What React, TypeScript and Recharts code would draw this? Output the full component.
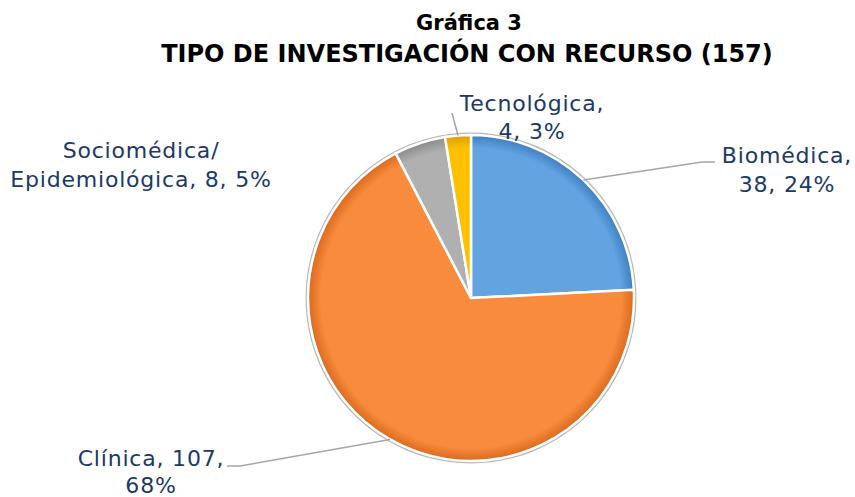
import React from "react";
import { PieChart, Pie, Cell } from "recharts";

const categories = ["Biomédica", "Clínica", "Sociomédica/Epidemiológica", "Tecnológica"];
const values = [38, 107, 8, 4];
const colors = ["#62A3E0", "#F88B3C", "#B0B0B0", "#FFC000"];
const darkColors = ["#3F7FBF", "#D9691E", "#8A8A8A", "#D9A000"];
const titleLines = ["Gráfica 3", "TIPO DE INVESTIGACIÓN CON RECURSO (157)"];

const data = categories.map((name, i) => ({ name, value: values[i] }));
const total = values.reduce((a, b) => a + b, 0);

const CX = 471;
const CY = 298;
const R = 163;
const RADIAN = Math.PI / 180;

// label layout (text anchor centre, first baseline, leader line path after edge point)
const labelLayout: Record<string, { x: number; y: number; gap: number; breakAfter: string; path: [number, number][] }> = {
  "Biomédica": { x: 787, y: 163, gap: 28.5, breakAfter: "Biomédica,", path: [[702, 162], [715, 162]] },
  "Clínica": { x: 151, y: 466, gap: 27, breakAfter: "Clínica, 107,", path: [[240, 466], [227, 466]] },
  "Sociomédica/Epidemiológica": { x: 141, y: 158, gap: 29, breakAfter: "Sociomédica/", path: [] },
  "Tecnológica": { x: 532, y: 111, gap: 27.5, breakAfter: "Tecnológica,", path: [[452, 113]] },
};

const textColor = "#203864";
const font = "'DejaVu Sans', sans-serif";

const renderLabel = (props: any) => {
  const { cx, cy, midAngle, outerRadius, name, value, percent } = props;
  const lay = labelLayout[name];
  if (!lay) return null;
  const ex = cx + outerRadius * Math.cos(-midAngle * RADIAN);
  const ey = cy + outerRadius * Math.sin(-midAngle * RADIAN);
  const full = `${name}, ${value}, ${Math.round(percent * 100)}%`;
  const line1 = lay.breakAfter;
  const rest = full.slice(lay.breakAfter.length);
  const line2 = rest.startsWith(" ") ? rest.trim() : rest;
  const pts = lay.path.length ? [[ex, ey], ...lay.path] : [];
  return (
    <g>
      {pts.length > 0 && (
        <polyline
          points={pts.map((p) => p.join(",")).join(" ")}
          fill="none"
          stroke="#A6A6A6"
          strokeWidth={1.5}
        />
      )}
      <text x={lay.x} y={lay.y} textAnchor="middle" fill={textColor} fontFamily={font} fontSize={22} letterSpacing={0.8}>
        {line1}
      </text>
      <text x={lay.x} y={lay.y + lay.gap} textAnchor="middle" fill={textColor} fontFamily={font} fontSize={22} letterSpacing={0.8}>
        {line2}
      </text>
    </g>
  );
};

export default function App() {
  return (
    <div style={{ position: "absolute", left: 0, top: 0, width: 855, height: 497, background: "#fff" }}>
      <svg width={0} height={0} style={{ position: "absolute" }}>
        <defs>
          {colors.map((c, i) => (
            <radialGradient key={i} id={`grad${i}`} gradientUnits="userSpaceOnUse" cx={CX} cy={CY} r={R}>
              <stop offset="0" stopColor={c} />
              <stop offset="0.92" stopColor={c} />
              <stop offset="1" stopColor={darkColors[i]} />
            </radialGradient>
          ))}
        </defs>
      </svg>
      <PieChart width={855} height={497} margin={{ top: 0, right: 0, bottom: 0, left: 0 }}>
        <text x={469} y={30} textAnchor="middle" fontFamily={font} fontWeight="bold" fontSize={21} fill="#000">
          {titleLines[0]}
        </text>
        <text x={467} y={62} textAnchor="middle" fontFamily={font} fontWeight="bold" fontSize={24} fill="#000">
          {titleLines[1]}
        </text>
        <Pie
          data={[{ name: "total", value: total }]}
          dataKey="value"
          cx={CX}
          cy={CY}
          outerRadius={R + 2.5}
          fill="#B8B8B8"
          stroke="none"
          isAnimationActive={false}
        />
        <Pie
          data={data}
          dataKey="value"
          nameKey="name"
          cx={CX}
          cy={CY}
          outerRadius={R}
          startAngle={90}
          endAngle={-270}
          stroke="#FFFFFF"
          strokeWidth={2.5}
          label={renderLabel}
          labelLine={false}
          isAnimationActive={false}
        >
          {data.map((d, i) => (
            <Cell key={d.name} fill={`url(#grad${i})`} />
          ))}
        </Pie>
      </PieChart>
    </div>
  );
}
